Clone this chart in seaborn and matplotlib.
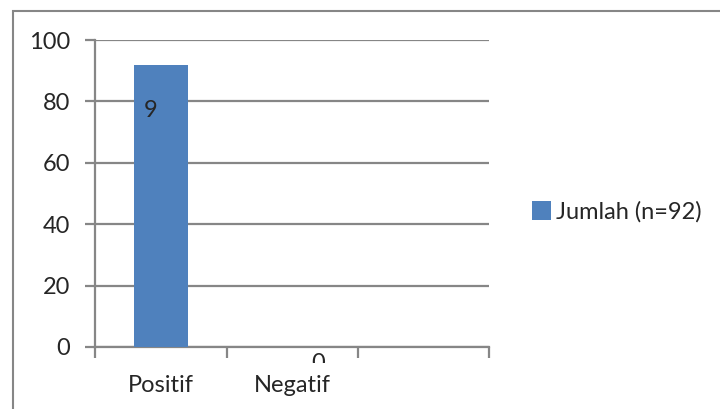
import numpy as np
import matplotlib
matplotlib.use("Agg")
import matplotlib.pyplot as plt
import seaborn as sns
from matplotlib.transforms import Bbox
from matplotlib.patches import Rectangle

# data
categories = ["Positif", "Negatif"]
jumlah = [92, 0]
series_label = "Jumlah (n=92)"
yticks = [0, 20, 40, 60, 80, 100]

sns.set_style("white")
plt.rcParams["font.family"] = ["Lato", "DejaVu Sans"]

grey = "#868686"
blue = "#4F81BD"
fs = 17

fig = plt.figure(figsize=(7.2, 4.09), dpi=100)
ax = fig.add_axes([0.1325, 0.1516, 0.679 - 0.1325, 0.9022 - 0.1516])

sns.barplot(x=categories, y=jumlah, color=blue, width=0.41, saturation=1,
            edgecolor=blue, linewidth=0, label=series_label, ax=ax, zorder=3)

ax.set_xlim(-0.5, 2.5)
ax.set_ylim(0, 100)
ax.set_yticks(yticks)
ax.yaxis.grid(True, color=grey, lw=1.6)
ax.set_axisbelow(True)

for s in ["top", "right"]:
    ax.spines[s].set_visible(False)
for s in ["left", "bottom"]:
    ax.spines[s].set_color(grey)
    ax.spines[s].set_linewidth(1.6)

ax.tick_params(axis="y", length=7, width=1.6, color=grey, labelsize=fs, pad=11, direction="out", left=True)
ax.set_xticks([0, 1])
ax.set_xticklabels(categories)
ax.set_xticks([-0.5, 0.5, 1.5, 2.5], minor=True)
ax.tick_params(axis="x", which="major", length=0, labelsize=fs, pad=20)
ax.tick_params(axis="x", which="minor", length=8, width=1.6, color=grey, bottom=True, direction="out")
ax.set_xlabel("")
ax.set_ylabel("")

# data labels, cut off like in the source
ax.text(-0.13, 80.5, "9", fontsize=fs, ha="left", va="top", zorder=4)
t0 = ax.text(1.2, -1.8, "0", fontsize=fs, ha="center", va="top", clip_on=True)
t0.set_clip_box(Bbox.from_extents(0, 409 - 363, 720, 409 - 352))

leg = ax.legend(loc="center left", bbox_to_anchor=(532 / 720, 1 - 212 / 409),
                bbox_transform=fig.transFigure, frameon=False, fontsize=fs,
                handlelength=0.8, handleheight=0.85, handletextpad=0.2, borderpad=0, borderaxespad=0)
for h in leg.legend_handles:
    h.set_edgecolor("none")

# outer chart border
fig.patches.append(Rectangle((13 / 720, -0.1), 1.2, 1 - 11 / 409 + 0.1, transform=fig.transFigure,
                             fill=False, edgecolor=grey, lw=1.5))

fig.savefig("out.png", dpi=100)
